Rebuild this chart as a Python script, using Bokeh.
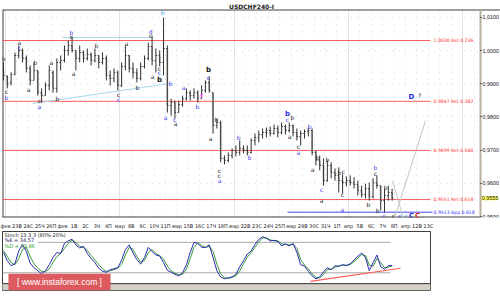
from bokeh.plotting import figure
from bokeh.models import Range1d, FixedTicker, Label, Grid
from bokeh.layouts import column
from bokeh.embed import file_html
from bokeh.resources import INLINE
from bokeh.core.properties import value

symbol = "USDCHF240-I"

# 8-hour bars (3 per trading day)
bar_high = [0.9964, 0.9925, 0.9934, 0.9994, 1.0015, 1.0006, 0.9985, 0.9955, 0.9964, 0.9940,
            0.9886, 0.9904, 0.9955, 0.9940, 0.9976, 0.9985, 1.0015, 1.0030, 1.0042, 1.0000,
            1.0015, 1.0000, 1.0006, 0.9994, 1.0006, 0.9985, 0.9994, 0.9985, 0.9940, 0.9946,
            0.9940, 0.9964, 1.0015, 0.9985, 0.9964, 0.9946, 0.9964, 0.9985, 1.0024, 1.0045,
            1.0006, 1.0000, 1.0099, 1.0015, 0.9855, 0.9849, 0.9849, 0.9864, 0.9886, 0.9880,
            0.9886, 0.9880, 0.9895, 0.9910, 0.9922, 0.9873, 0.9795, 0.9789, 0.9684, 0.9693,
            0.9705, 0.9714, 0.9729, 0.9714, 0.9714, 0.9735, 0.9750, 0.9759, 0.9765, 0.9768,
            0.9771, 0.9777, 0.9774, 0.9783, 0.9777, 0.9783, 0.9777, 0.9765, 0.9759, 0.9762,
            0.9768, 0.9765, 0.9699, 0.9684, 0.9675, 0.9669, 0.9663, 0.9645, 0.9648, 0.9627,
            0.9621, 0.9624, 0.9618, 0.9608, 0.9593, 0.9599, 0.9602, 0.9615, 0.9624, 0.9593,
            0.9584, 0.9593, 0.9584]
bar_low = [0.9910, 0.9886, 0.9895, 0.9925, 0.9976, 0.9964, 0.9934, 0.9895, 0.9910, 0.9864,
           0.9843, 0.9864, 0.9880, 0.9873, 0.9873, 0.9940, 0.9964, 0.9985, 0.9994, 0.9940,
           0.9964, 0.9964, 0.9970, 0.9955, 0.9964, 0.9946, 0.9958, 0.9910, 0.9895, 0.9904,
           0.9880, 0.9890, 0.9940, 0.9934, 0.9916, 0.9904, 0.9910, 0.9946, 0.9970, 0.9955,
           0.9934, 0.9952, 0.9925, 0.9813, 0.9804, 0.9795, 0.9813, 0.9831, 0.9849, 0.9849,
           0.9855, 0.9843, 0.9855, 0.9873, 0.9873, 0.9750, 0.9765, 0.9663, 0.9657, 0.9663,
           0.9675, 0.9681, 0.9684, 0.9690, 0.9684, 0.9690, 0.9714, 0.9723, 0.9735, 0.9738,
           0.9741, 0.9747, 0.9738, 0.9747, 0.9747, 0.9753, 0.9741, 0.9729, 0.9714, 0.9735,
           0.9741, 0.9684, 0.9654, 0.9639, 0.9593, 0.9605, 0.9615, 0.9608, 0.9572, 0.9569,
           0.9590, 0.9593, 0.9584, 0.9563, 0.9557, 0.9554, 0.9548, 0.9554, 0.9584, 0.9518,
           0.9512, 0.9548, 0.9548]
bar_open = [0.9940, 0.9922, 0.9904, 0.9928, 0.9985, 1.0000, 0.9976, 0.9946, 0.9910, 0.9940,
            0.9873, 0.9864, 0.9895, 0.9934, 0.9886, 0.9964, 0.9970, 1.0000, 1.0015, 1.0000,
            0.9976, 0.9994, 0.9976, 0.9988, 0.9970, 0.9985, 0.9964, 0.9976, 0.9925, 0.9916,
            0.9934, 0.9895, 0.9952, 0.9985, 0.9946, 0.9934, 0.9916, 0.9952, 0.9976, 1.0012,
            0.9970, 0.9985, 0.9964, 1.0006, 0.9834, 0.9843, 0.9813, 0.9837, 0.9855, 0.9873,
            0.9864, 0.9873, 0.9855, 0.9880, 0.9904, 0.9873, 0.9774, 0.9783, 0.9675, 0.9669,
            0.9684, 0.9699, 0.9693, 0.9705, 0.9699, 0.9693, 0.9729, 0.9738, 0.9747, 0.9753,
            0.9759, 0.9750, 0.9765, 0.9753, 0.9771, 0.9759, 0.9774, 0.9753, 0.9741, 0.9750,
            0.9756, 0.9759, 0.9693, 0.9669, 0.9654, 0.9608, 0.9654, 0.9633, 0.9624, 0.9608,
            0.9602, 0.9608, 0.9602, 0.9596, 0.9578, 0.9566, 0.9584, 0.9560, 0.9602, 0.9593,
            0.9548, 0.9563, 0.9572]
bar_close = [0.9925, 0.9898, 0.9928, 0.9985, 1.0000, 0.9976, 0.9946, 0.9910, 0.9940, 0.9873,
             0.9864, 0.9895, 0.9940, 0.9886, 0.9964, 0.9970, 1.0000, 1.0015, 1.0000, 0.9976,
             0.9994, 0.9976, 0.9988, 0.9970, 0.9985, 0.9964, 0.9976, 0.9925, 0.9916, 0.9934,
             0.9895, 0.9952, 0.9985, 0.9946, 0.9934, 0.9916, 0.9952, 0.9976, 1.0012, 0.9970,
             0.9985, 0.9964, 1.0006, 0.9834, 0.9843, 0.9813, 0.9837, 0.9855, 0.9873, 0.9864,
             0.9873, 0.9855, 0.9880, 0.9904, 0.9880, 0.9774, 0.9783, 0.9675, 0.9669, 0.9684,
             0.9699, 0.9693, 0.9705, 0.9699, 0.9693, 0.9729, 0.9738, 0.9747, 0.9753, 0.9759,
             0.9750, 0.9765, 0.9753, 0.9771, 0.9759, 0.9774, 0.9753, 0.9741, 0.9750, 0.9756,
             0.9759, 0.9693, 0.9669, 0.9654, 0.9608, 0.9654, 0.9633, 0.9624, 0.9608, 0.9602,
             0.9608, 0.9602, 0.9596, 0.9578, 0.9566, 0.9584, 0.9560, 0.9602, 0.9593, 0.9548,
             0.9563, 0.9572, 0.9555]

stoch_k = [60, 44, 34, 38, 63, 76, 62, 39, 30, 24, 18, 24, 36, 50, 60, 58, 78, 83, 86, 75,
           69, 72, 58, 48, 40, 29, 23, 21, 26, 28, 30, 45, 66, 75, 59, 46, 37, 50, 70, 62,
           55, 53, 40, 25, 21, 17, 14, 20, 36, 60, 80, 78, 70, 70, 75, 50, 24, 12, 8, 10,
           12, 17, 32, 44, 57, 63, 76, 86, 91, 88, 83, 84, 82, 73, 77, 73, 78, 60, 36, 33,
           23, 14, 8, 12, 22, 30, 26, 34, 33, 36, 34, 38, 45, 53, 59, 50, 24, 40, 55, 32,
           27, 34, 34.57]
stoch_d = [64, 52, 40, 36, 48, 66, 70, 52, 38, 29, 23, 22, 28, 40, 52, 58, 68, 78, 84, 80,
           72, 70, 64, 54, 45, 36, 28, 23, 24, 26, 29, 36, 55, 70, 66, 52, 41, 44, 60, 66,
           58, 54, 47, 33, 24, 19, 16, 17, 27, 48, 70, 79, 74, 70, 72, 62, 37, 18, 10, 9,
           11, 14, 24, 38, 51, 60, 70, 81, 89, 89, 85, 83, 83, 77, 76, 75, 76, 68, 46, 35,
           28, 18, 11, 10, 17, 26, 27, 31, 33, 35, 35, 36, 42, 49, 56, 54, 35, 33, 48, 40,
           30, 31, 33.86]

day_labels = ["фев", "23В", "24С", "25Ч", "26П", "фев", "1В", "2С", "3Ч", "4П",
              "мар", "8В", "9С", "10Ч", "11П", "мар", "15В", "16С", "17Ч", "18П",
              "мар", "22В", "23С", "24Ч", "25П", "мар", "29В", "30С", "31Ч", "1П",
              "апр", "5В", "6С", "7Ч", "8П", "апр", "12В", "13С"]

price_ticks = [0.95, 0.96, 0.97, 0.98, 0.99, 1.00, 1.01]
price_tick_labels = ["0,9500", "0,9600", "0,9700", "0,9800", "0,9900", "1,0000", "1,0100"]

fib_levels = [1.0030, 0.9847, 0.9699, 0.9551]
fib_texts = ["1.0030 Ret 0.236", "0.9847 Ret 0.382", "0.9699 Ret 0.500", "0.9551 Ret 0.618"]
app_level = 0.9513
app_text = "0.9513 App 0.618"
last_price = 0.9555
last_price_text = "0,9555"

stoch_title = "Stoch 13,3,3 (80%-20%)"
k_text = "%K = 34,57"
d_text = "%D = 33,86"
stoch_levels = [80, 20]
watermark = "[ www.instaforex.com ]"

# wave labels (text, day, price)
labels_black = [("b", -0.17, 0.9976), ("c", 0.09, 0.9876), ("a", 1.22, 1.0024), ("a", 2.01, 0.9883),
                ("b", 2.62, 0.9964), ("a", 4.02, 0.9964), ("c", 2.97, 0.9849), ("b", 4.55, 0.9855),
                ("c", 5.77, 1.0042), ("a", 5.95, 0.9931), ("b", 7.96, 1.0015), ("c", 9.89, 0.9867),
                ("a", 10.59, 1.0021), ("b", 11.55, 0.9889), ("c", 12.69, 1.0045), ("a", 12.86, 0.9922),
                ("c", 13.47, 0.9946), ("a", 14.87, 0.9780), ("b", 18.46, 0.9792), ("a", 17.94, 0.9735),
                ("c", 18.72, 0.9639), ("c", 18.72, 0.9624), ("b", 25.11, 0.9798), ("a", 24.85, 0.9741),
                ("c", 25.63, 0.9711), ("b", 27.30, 0.9678), ("a", 26.86, 0.9642), ("b", 28.17, 0.9672),
                ("a", 27.65, 0.9548), ("b", 29.22, 0.9633), ("c", 29.57, 0.9636), ("c", 29.48, 0.9566),
                ("b", 31.76, 0.9536), ("c", 32.37, 0.9630), ("b", 33.25, 0.9587), ("b", 32.55, 0.9518),
                ("c", 33.95, 0.9503), ("?", 36.22, 0.9864)]
labels_black_big = [("b", 13.47, 0.9912), ("b", 17.76, 0.9940)]
labels_blue = [("b", 0.09, 0.9858), ("c", 1.22, 1.0009), ("a", 2.97, 0.9831), ("b", 5.77, 1.0054),
               ("c", 9.89, 0.9852), ("d", 12.69, 1.0057), ("c", 13.47, 0.9934), ("b", 14.44, 0.9901),
               ("a", 15.57, 0.9889), ("b", 16.80, 0.9831), ("c", 17.76, 0.9919), ("a", 14.00, 0.9798),
               ("c", 14.79, 0.9792), ("a", 18.72, 0.9608), ("b", 20.39, 0.9738), ("b", 21.35, 0.9678),
               ("c", 24.67, 0.9792), ("a", 25.63, 0.9693), ("b", 26.60, 0.9771), ("c", 27.65, 0.9581),
               ("a", 29.48, 0.9521), ("b", 32.37, 0.9648), ("c", 33.16, 0.9503), ("c", 34.56, 0.9503)]
labels_blue_big = [("b", 24.67, 0.9808), ("C", 35.52, 0.9503), ("D", 35.52, 0.9861)]
labels_cyan = [("b", 13.74, 1.0114), ("c", 35.08, 0.9503)]
labels_red_big = [("C", 36.05, 0.9503)]
labels_pink = [("f", 17.15, 0.9864)]

# trend / projection lines (day, price)
trend_lines = [((2.36, 0.9840), (14.44, 0.9901)), ((4.99, 1.0039), (12.69, 1.0039))]
projection_lines = [((33.86, 0.9608), (34.82, 0.9494)), ((34.03, 0.9494), (36.75, 0.9789))]
stoch_trend = ((26.68, 3), (34.56, 29))

FONT = "DejaVu Sans"
AXFONT = "Liberation Sans"
first_bar_day = -0.175
bar_x = [first_bar_day + i / 3 for i in range(len(bar_close))]
x_start, x_axis_day, x_canvas_end, x_sub_end = -0.2625, 41.56, 43.307, 37.18
y_bottom, y_top = 0.9497, 1.01235

p = figure(width=500, height=219, x_range=Range1d(x_start, x_canvas_end),
           y_range=Range1d(y_bottom, y_top), x_axis_location=None, y_axis_location="right",
           output_backend="svg", toolbar_location=None,
           min_border_left=2, min_border_right=0, min_border_top=9, min_border_bottom=2)
p.frame_align = False
p.title.text = symbol
p.title.align = "center"
p.title.text_font = FONT
p.title.text_font_size = "6px"
p.title.text_font_style = "bold"
p.title.text_color = "#202020"
p.title.standoff = 0
p.title.offset = 0
p.outline_line_color = None
p.background_fill_color = "white"
p.border_fill_color = "white"
ya = p.yaxis[0]
ya.fixed_location = x_axis_day
ya.ticker = FixedTicker(ticks=price_ticks)
ya.major_label_overrides = {t: s for t, s in zip(price_ticks, price_tick_labels)}
ya.major_label_text_font_size = "5.4px"
ya.major_label_text_font = AXFONT
ya.major_label_text_color = "#222222"
ya.axis_line_color = "#b8b0a0"
ya.axis_line_width = 2
ya.major_tick_out = 1
ya.major_tick_in = 0
ya.minor_tick_out = 0
ya.minor_tick_in = 0
ya.major_label_standoff = 1
p.ygrid.ticker = FixedTicker(ticks=price_ticks)
p.ygrid.grid_line_color = "#d8d8d8"
p.ygrid.grid_line_dash = "1 5"
p.add_layout(Grid(dimension=0, ticker=FixedTicker(ticks=list(range(42))),
                  grid_line_color="#d8d8d8", grid_line_dash="1 5"))

# frame edges (left, top, bottom)
p.segment(x0=[x_start, x_start, x_start], y0=[y_bottom, y_top, y_bottom],
          x1=[x_start, x_canvas_end, x_axis_day], y1=[y_top, y_top, y_bottom],
          line_color="#404040", line_width=2)

# fib levels
p.segment(x0=[-0.5] * len(fib_levels), y0=fib_levels, x1=[x_sub_end] * len(fib_levels), y1=fib_levels,
          line_color="#ff5a5a", line_width=1)
p.segment(x0=[24.67], y0=[app_level], x1=[37.36], y1=[app_level], line_color="#4a4aff", line_width=1)
p.text(x=[37.45] * len(fib_levels), y=fib_levels, text=fib_texts, text_font=value(FONT),
       text_font_size="4.6px", text_color="#ff3030", text_baseline="middle", text_align="left")
p.text(x=[37.45], y=[app_level], text=[app_text], text_font=value(FONT),
       text_font_size="4.6px", text_color="#3030ff", text_baseline="middle", text_align="left")

for (a, b) in trend_lines:
    p.line([a[0], b[0]], [a[1], b[1]], line_color="#a6d8ee", line_width=1)
for (a, b) in projection_lines:
    p.line([a[0], b[0]], [a[1], b[1]], line_color="#c4c4c4", line_width=1)

# bars
down = [i for i in range(len(bar_close)) if bar_close[i] < bar_open[i]]
p.vbar(x=[bar_x[i] for i in down], top=[bar_open[i] for i in down],
       bottom=[bar_close[i] for i in down], width=0.16, fill_color="#bdbdbd", line_color=None)
p.segment(x0=bar_x, y0=bar_low, x1=bar_x, y1=bar_high, line_color="#303030", line_width=1)
p.segment(x0=[x - 0.1 for x in bar_x], y0=bar_open, x1=bar_x, y1=bar_open, line_color="#303030", line_width=1)
p.segment(x0=bar_x, y0=bar_close, x1=[x + 0.1 for x in bar_x], y1=bar_close, line_color="#303030", line_width=1)


def put(fig, items, color, size="6px", style="normal"):
    fig.text(x=[t[1] for t in items], y=[t[2] for t in items], text=[t[0] for t in items],
             text_font=value(FONT), text_font_size=size, text_font_style=style, text_color=color,
             text_align="center", text_baseline="middle")


put(p, labels_black, "#202020")
put(p, labels_black_big, "#101010", "7px", "bold")
put(p, labels_blue, "#3c3cf0")
put(p, labels_blue_big, "#2a2ae8", "7px", "bold")
put(p, labels_cyan, "#30b4e8")
put(p, labels_red_big, "#e02020", "7px", "bold")
put(p, labels_pink, "#ff40ff", "6px", "bold")

# last-price tag on the price scale
p.add_layout(Label(x=41.66, y=last_price, text=last_price_text,
                   text_font=AXFONT, text_font_size="5.4px", text_align="left", text_baseline="middle",
                   text_color="#202020", background_fill_color="#ffff50"))

# stochastic panel
s = figure(width=500, height=78, x_range=Range1d(x_start, x_sub_end), y_range=Range1d(-14.9, 101.4),
           x_axis_location="above", y_axis_location=None, output_backend="svg", toolbar_location=None,
           min_border_left=2, min_border_right=70, min_border_top=11, min_border_bottom=7)
s.frame_align = False
s.outline_line_color = "#404040"
s.grid.visible = False
s.border_fill_color = "white"
xa = s.xaxis[0]
xa.ticker = FixedTicker(ticks=list(range(len(day_labels))))
xa.major_label_overrides = {i: t for i, t in enumerate(day_labels)}
xa.major_label_text_font = FONT
xa.major_label_text_font_size = "5px"
xa.major_label_text_color = "#222222"
xa.major_tick_out = 0
xa.major_tick_in = 0
xa.minor_tick_out = 0
xa.minor_tick_in = 0
xa.major_label_standoff = 3
xa.axis_line_color = "#404040"

sub_x = bar_x
s.segment(x0=[2.8, x_start], y0=stoch_levels, x1=[33.68, 33.68], y1=stoch_levels,
          line_color="#a8a8a8", line_width=1)
s.line(sub_x, stoch_d, line_color="#3a9a3a", line_width=1)
s.line(sub_x, stoch_k, line_color="#2a2ab0", line_width=1)
s.line([stoch_trend[0][0], stoch_trend[1][0]], [stoch_trend[0][1], stoch_trend[1][1]],
       line_color="#ff5a5a", line_width=1.2)
s.text(x=[-0.09, -0.09, -0.09], y=[93.6, 83.9, 73.6], text=[stoch_title, k_text, d_text],
       text_font=value(FONT), text_font_size="5px", text_color=["#202020", "#202060", "#2a9a2a"],
       text_align="left", text_baseline="middle")
s.quad(left=[-0.5], right=[x_sub_end], bottom=[-14.9], top=[-1.4], fill_color="#d4d0c8", line_color=None)
s.segment(x0=[-0.5], y0=[-1.4], x1=[x_sub_end], y1=[-1.4], line_color="#303030", line_width=1)
s.quad(left=[0.26], right=[9.19], bottom=[-14.9], top=[18.0], fill_color="#dd5a5e", line_color=None)
s.text(x=[4.72], y=[1.5], text=[watermark], text_font=value("Liberation Sans"), text_font_size="8.5px",
       text_color="white", text_align="center", text_baseline="middle")

layout = column(p, s)
open("out.html", "w").write(file_html(layout, INLINE))
